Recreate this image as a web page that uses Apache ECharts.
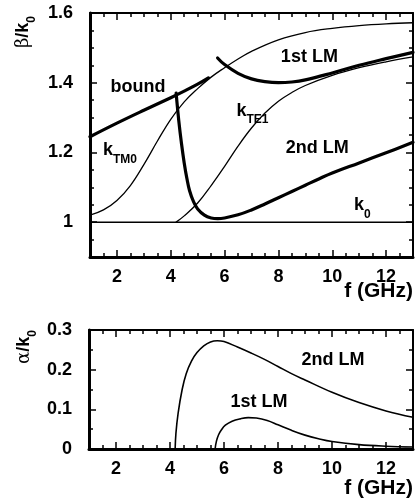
<!DOCTYPE html>
<html>
<head>
<meta charset="utf-8">
<script src="https://cdn.jsdelivr.net/npm/echarts@6/dist/echarts.min.js"></script>
<style>
  html, body { margin: 0; padding: 0; background: #fff; }
  #main { width: 417px; height: 502px; }
</style>
</head>
<body>
<div id="main"></div>
<script>
// --- data (f in GHz) ---
const boundF = [1, 2, 3, 4, 4.5, 5, 5.4];
const boundB = [1.245, 1.284, 1.321, 1.357, 1.376, 1.396, 1.414];

const tm0F = [1, 1.5, 2, 2.5, 3, 3.5, 4, 4.5, 5, 5.5, 6, 6.5, 7, 8, 9, 10, 11, 12, 13];
const tm0B = [1.02, 1.035, 1.062, 1.105, 1.165, 1.232, 1.295, 1.345, 1.383, 1.416, 1.443, 1.468, 1.49, 1.523, 1.544, 1.556, 1.564, 1.569, 1.572];

const te1F = [4.2, 4.5, 5, 5.5, 6, 6.5, 7, 7.5, 8, 8.5, 9, 10, 11, 12, 13];
const te1B = [1.0, 1.018, 1.055, 1.105, 1.16, 1.218, 1.27, 1.313, 1.347, 1.372, 1.392, 1.421, 1.443, 1.46, 1.474];

const k0F = [1, 13];
const k0B = [1, 1];

const lm1F = [5.74, 6, 6.5, 7, 7.5, 8, 8.5, 9, 10, 11, 12, 13];
const lm1B = [1.471, 1.452, 1.427, 1.411, 1.403, 1.40, 1.402, 1.408, 1.428, 1.45, 1.469, 1.487];

const lm2F = [4.2, 4.3, 4.4, 4.5, 4.6, 4.7, 4.85, 5, 5.25, 5.5, 5.75, 6, 6.5, 7, 7.5, 8, 8.5, 9, 9.5, 10, 11, 12, 13];
const lm2B = [1.37, 1.29, 1.225, 1.17, 1.125, 1.09, 1.058, 1.038, 1.02, 1.012, 1.01, 1.012, 1.021, 1.035, 1.052, 1.07, 1.088, 1.106, 1.124, 1.141, 1.17, 1.199, 1.229];

// attenuation alpha/k0
const a2F = [4.19, 4.22, 4.3, 4.45, 4.6, 4.8, 5, 5.25, 5.5, 5.75, 6, 6.5, 7, 7.5, 8, 8.5, 9, 10, 11, 12, 13];
const a2V = [0, 0.04, 0.09, 0.15, 0.19, 0.222, 0.243, 0.26, 0.27, 0.273, 0.271, 0.257, 0.242, 0.226, 0.208, 0.19, 0.174, 0.143, 0.117, 0.096, 0.08];

const a1F = [5.67, 5.72, 5.8, 5.9, 6.05, 6.3, 6.6, 6.9, 7.2, 7.6, 8, 8.5, 9, 9.5, 10, 11, 12, 13];
const a1V = [0, 0.02, 0.036, 0.048, 0.06, 0.07, 0.076, 0.079, 0.078, 0.072, 0.061, 0.047, 0.035, 0.026, 0.019, 0.011, 0.007, 0.005];

// tick labels
const fTicks = [2, 4, 6, 8, 10, 12];
const betaTicks = [1, 1.2, 1.4, 1.6];
const alphaTicks = [0, 0.1, 0.2, 0.3];

const FONT = '"Liberation Sans", Arial, sans-serif';
const zip = (xs, ys) => xs.map((x, i) => [x, ys[i]]);

const chart = echarts.init(document.getElementById('main'), null, { renderer: 'canvas' });

const labelStyle = { fontFamily: FONT, fontWeight: 'bold', fontSize: 18, color: '#000' };

// each side of a box = a line with short ticks + an overlay with long ticks at the labelled values
function xAxes(grid, min, max, step, major) {
  const base = { gridIndex: grid, type: 'value', min: min, max: max, interval: step, splitLine: { show: false } };
  return [
    Object.assign({}, base, { position: 'bottom',
      axisLine: { onZero: false, lineStyle: { color: '#000', width: 3 } },
      axisTick: { inside: true, length: 4, lineStyle: { color: '#000', width: 1.5 } },
      axisLabel: { show: false } }),
    Object.assign({}, base, { position: 'bottom',
      axisLine: { show: false, onZero: false },
      axisTick: { inside: true, length: 7, customValues: major, lineStyle: { color: '#000', width: 1.5 } },
      axisLabel: Object.assign({ customValues: major, margin: 11 }, labelStyle) }),
    Object.assign({}, base, { position: 'top',
      axisLine: { onZero: false, lineStyle: { color: '#000', width: 2 } },
      axisTick: { inside: true, length: 4, lineStyle: { color: '#000', width: 1.5 } },
      axisLabel: { show: false } }),
    Object.assign({}, base, { position: 'top',
      axisLine: { show: false, onZero: false },
      axisTick: { inside: true, length: 7, customValues: major, lineStyle: { color: '#000', width: 1.5 } },
      axisLabel: { show: false } })
  ];
}

function yAxes(grid, min, max, step, major, fmt) {
  const base = { gridIndex: grid, type: 'value', min: min, max: max, interval: step, splitLine: { show: false } };
  return [
    Object.assign({}, base, { position: 'left',
      axisLine: { onZero: false, lineStyle: { color: '#000', width: 3 } },
      axisTick: { inside: true, length: 4, lineStyle: { color: '#000', width: 1.5 } },
      axisLabel: { show: false } }),
    Object.assign({}, base, { position: 'left',
      axisLine: { show: false, onZero: false },
      axisTick: { inside: true, length: 7, customValues: major, lineStyle: { color: '#000', width: 1.5 } },
      axisLabel: Object.assign({ customValues: major, margin: 17, formatter: fmt }, labelStyle) }),
    Object.assign({}, base, { position: 'right',
      axisLine: { onZero: false, lineStyle: { color: '#000', width: 2 } },
      axisTick: { inside: true, length: 4, lineStyle: { color: '#000', width: 1.5 } },
      axisLabel: { show: false } }),
    Object.assign({}, base, { position: 'right',
      axisLine: { show: false, onZero: false },
      axisTick: { inside: true, length: 7, customValues: major, lineStyle: { color: '#000', width: 1.5 } },
      axisLabel: { show: false } })
  ];
}

function curve(name, xs, ys, width, grid) {
  return {
    name: name,
    type: 'line',
    xAxisIndex: grid * 4,
    yAxisIndex: grid * 4,
    data: zip(xs, ys),
    showSymbol: false,
    smooth: 0.4,
    lineStyle: { color: '#000', width: width, cap: 'round', join: 'round' },
    z: 3
  };
}

const option = {
  animation: false,
  backgroundColor: '#fff',
  grid: [
    { left: 90, top: 13, width: 323, height: 244 },
    { left: 89, top: 330, width: 324, height: 119 }
  ],
  xAxis: xAxes(0, 1, 13, 0.5, fTicks).concat(xAxes(1, 1, 13, 0.5, fTicks)),
  yAxis: yAxes(0, 0.9, 1.6, 0.05, betaTicks, v => String(+v.toFixed(1)))
    .concat(yAxes(1, 0, 0.3, 0.05, alphaTicks, v => String(+v.toFixed(1)))),
  series: [
    curve('k0', k0F, k0B, 1.5, 0),
    curve('kTM0', tm0F, tm0B, 1.3, 0),
    curve('kTE1', te1F, te1B, 1.3, 0),
    curve('bound', boundF, boundB, 3.2, 0),
    curve('1st LM', lm1F, lm1B, 3.2, 0),
    curve('2nd LM', lm2F, lm2B, 3.2, 0),
    curve('alpha 2nd LM', a2F, a2V, 1.6, 1),
    curve('alpha 1st LM', a1F, a1V, 1.6, 1)
  ]
};
chart.setOption(option);

// text annotations, anchored in data coordinates [f, value]
const rich = {
  m: { fontFamily: FONT, fontWeight: 'bold', fontSize: 18, lineHeight: 24, verticalAlign: 'top' },
  s: { fontFamily: FONT, fontWeight: 'bold', fontSize: 12, lineHeight: 24, verticalAlign: 'bottom' },
  g: { fontFamily: '"DejaVu Serif", serif', fontWeight: 'normal', fontSize: 18, lineHeight: 24, verticalAlign: 'top' }
};
const notes = [
  { grid: 0, at: [2.78, 1.38], text: '{m|bound}', align: 'center' },
  { grid: 0, at: [9.15, 1.466], text: '{m|1st LM}', align: 'center' },
  { grid: 0, at: [6.44, 1.31], text: '{m|k}{s|TE1}', align: 'left' },
  { grid: 0, at: [1.48, 1.197], text: '{m|k}{s|TM0}', align: 'left' },
  { grid: 0, at: [9.44, 1.203], text: '{m|2nd LM}', align: 'center' },
  { grid: 0, at: [10.81, 1.04], text: '{m|k}{s|0}', align: 'left' },
  { grid: 1, at: [10.04, 0.2175], text: '{m|2nd LM}', align: 'center' },
  { grid: 1, at: [7.3, 0.11], text: '{m|1st LM}', align: 'center' }
];

const graphic = notes.map(n => {
  const p = chart.convertToPixel({ gridIndex: n.grid }, n.at);
  return { type: 'text', x: p[0], y: p[1], z: 10,
    style: { text: n.text, rich: rich, align: n.align, verticalAlign: 'middle', fill: '#000' } };
});

// x-axis titles
[[413, 291], [413, 488]].forEach(p => {
  graphic.push({ type: 'text', x: p[0], y: p[1], z: 10,
    style: { text: 'f (GHz)', fontFamily: FONT, fontWeight: 'bold', fontSize: 21, align: 'right', verticalAlign: 'middle', fill: '#000' } });
});

// y-axis titles (rotated)
[['{g|β}{m|/k}{s|0}', 26, 32], ['{g|α}{m|/k}{s|0}', 27, 347]].forEach(t => {
  graphic.push({ type: 'text', x: t[1], y: t[2], rotation: Math.PI / 2, z: 10,
    style: { text: t[0], rich: rich, align: 'center', verticalAlign: 'middle', fill: '#000' } });
});

chart.setOption({ graphic: graphic });
</script>
</body>
</html>
